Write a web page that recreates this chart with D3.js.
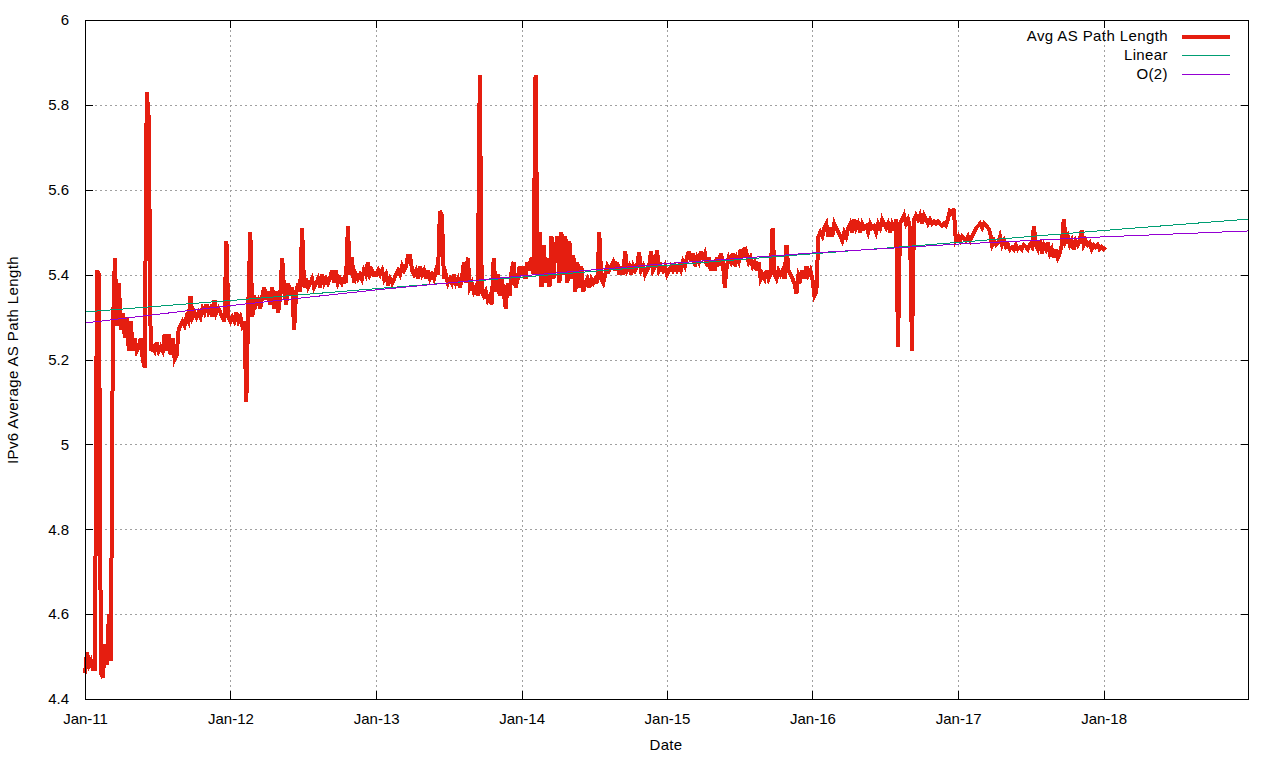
<!DOCTYPE html>
<html><head><meta charset="utf-8">
<script src="https://cdn.jsdelivr.net/npm/d3@7"></script>
<style>
body{margin:0;background:#fff}
text{font-family:"Liberation Sans",Arial,sans-serif;font-size:15px;fill:#000}
</style>
</head><body>
<svg id="chart" width="1280" height="760"></svg>
<script>
// ---- data (5-day samples, starting Jan 1 of each year) ----
const years = [2011, 2012, 2013, 2014, 2015, 2016, 2017, 2018];
const avg2011 = [4.46,4.51,4.48,4.49,4.47,4.47,5.41,5.40,4.46,4.45,4.53,4.48,4.60,4.49,5.27,5.44,5.28,5.38,5.27,5.31,5.25,5.30,5.22,5.29,5.22,5.25,5.22,5.23,5.25,5.20,5.18,5.83,5.77,5.22,5.23,5.22,5.24,5.22,5.23,5.22,5.26,5.22,5.26,5.21,5.25,5.20,5.21,5.27,5.28,5.29,5.28,5.30,5.29,5.35,5.30,5.31,5.30,5.31,5.30,5.32,5.31,5.33,5.31,5.32,5.30,5.34,5.31,5.32,5.31,5.30,5.29,5.48,5.30];
const avg2012 = [5.29,5.30,5.29,5.31,5.29,5.30,5.28,5.29,5.10,5.33,5.50,5.30,5.35,5.33,5.34,5.32,5.35,5.37,5.34,5.36,5.33,5.37,5.32,5.36,5.31,5.35,5.44,5.36,5.33,5.38,5.35,5.37,5.27,5.36,5.38,5.36,5.51,5.37,5.39,5.37,5.38,5.39,5.37,5.38,5.39,5.37,5.40,5.38,5.39,5.38,5.39,5.41,5.38,5.41,5.38,5.39,5.38,5.39,5.38,5.515,5.40,5.44,5.38,5.40,5.39,5.40,5.39,5.41,5.40,5.43,5.40,5.41,5.40];
const avg2013 = [5.40,5.41,5.40,5.41,5.39,5.40,5.375,5.39,5.38,5.39,5.40,5.41,5.40,5.42,5.41,5.42,5.445,5.445,5.41,5.40,5.41,5.39,5.42,5.40,5.41,5.39,5.41,5.39,5.40,5.39,5.41,5.40,5.55,5.54,5.39,5.40,5.38,5.39,5.38,5.40,5.38,5.39,5.37,5.39,5.43,5.38,5.44,5.37,5.38,5.36,5.37,5.35,5.87,5.36,5.35,5.36,5.34,5.35,5.33,5.44,5.36,5.40,5.35,5.39,5.36,5.32,5.38,5.35,5.41,5.43,5.37,5.39,5.42];
const avg2014 = [5.40,5.42,5.39,5.43,5.41,5.44,5.40,5.87,5.40,5.50,5.37,5.47,5.38,5.44,5.37,5.49,5.39,5.46,5.49,5.38,5.50,5.40,5.49,5.38,5.48,5.39,5.445,5.36,5.43,5.37,5.42,5.36,5.38,5.39,5.37,5.39,5.38,5.39,5.38,5.50,5.39,5.38,5.40,5.42,5.41,5.42,5.43,5.41,5.43,5.40,5.42,5.40,5.455,5.41,5.42,5.40,5.42,5.41,5.42,5.453,5.41,5.42,5.40,5.41,5.42,5.455,5.41,5.42,5.458,5.41,5.42,5.41,5.42];
const avg2015 = [5.40,5.41,5.42,5.41,5.42,5.41,5.42,5.41,5.43,5.42,5.44,5.455,5.43,5.45,5.42,5.44,5.43,5.455,5.44,5.45,5.42,5.44,5.41,5.43,5.41,5.44,5.42,5.45,5.43,5.37,5.42,5.44,5.43,5.45,5.42,5.44,5.43,5.46,5.44,5.465,5.45,5.43,5.44,5.42,5.43,5.41,5.43,5.39,5.40,5.39,5.41,5.39,5.40,5.51,5.40,5.39,5.41,5.40,5.41,5.39,5.47,5.41,5.40,5.39,5.38,5.355,5.40,5.39,5.41,5.39,5.42,5.40,5.41];
const avg2016 = [5.39,5.35,5.36,5.49,5.50,5.49,5.51,5.52,5.49,5.51,5.49,5.52,5.51,5.50,5.49,5.48,5.50,5.49,5.51,5.52,5.50,5.53,5.51,5.52,5.50,5.52,5.51,5.515,5.50,5.52,5.51,5.515,5.50,5.52,5.51,5.53,5.52,5.51,5.52,5.50,5.52,5.51,5.53,5.23,5.52,5.53,5.54,5.52,5.53,5.51,5.22,5.53,5.54,5.53,5.54,5.52,5.54,5.53,5.52,5.53,5.52,5.525,5.52,5.525,5.52,5.515,5.52,5.515,5.53,5.55,5.545,5.555,5.48];
const avg2017 = [5.49,5.48,5.49,5.485,5.48,5.49,5.48,5.49,5.50,5.51,5.515,5.52,5.51,5.52,5.515,5.51,5.50,5.47,5.48,5.47,5.475,5.49,5.47,5.48,5.465,5.47,5.46,5.465,5.46,5.47,5.46,5.465,5.46,5.47,5.465,5.46,5.47,5.465,5.515,5.47,5.46,5.48,5.45,5.47,5.46,5.475,5.45,5.46,5.44,5.46,5.44,5.45,5.47,5.53,5.48,5.49,5.47,5.48,5.46,5.48,5.47,5.48,5.505,5.47,5.48,5.47,5.475,5.46,5.47,5.465,5.47,5.46,5.465];
const avg2018 = [5.46,5.465];
const yearlySeries = [avg2011, avg2012, avg2013, avg2014, avg2015, avg2016, avg2017, avg2018];

// fitted curves, read at Jan 1 of each year 2011..2019
const fitYears = [2011, 2012, 2013, 2014, 2015, 2016, 2017, 2018, 2019];
const linearFit = [5.312, 5.339, 5.367, 5.394, 5.422, 5.449, 5.476, 5.504, 5.531];
const quadFit = [5.286, 5.327, 5.364, 5.397, 5.426, 5.451, 5.472, 5.489, 5.503];

const xTickYears = [2011, 2012, 2013, 2014, 2015, 2016, 2017, 2018];
const xTickLabels = ["Jan-11","Jan-12","Jan-13","Jan-14","Jan-15","Jan-16","Jan-17","Jan-18"];
const yTicks = [4.4, 4.6, 4.8, 5.0, 5.2, 5.4, 5.6, 5.8, 6.0];
const seriesNames = ["Avg AS Path Length", "Linear", "O(2)"];
const seriesColors = ["#e51e10", "#009e73", "#9400d3"];

// ---- build ----
const avgData = [];
years.forEach((yr, k) => yearlySeries[k].forEach((v, i) => avgData.push({date: new Date(yr, 0, 1 + 5 * i), value: v})));
const linData = fitYears.map((y, i) => ({date: new Date(y, 0, 1), value: linearFit[i]}));
const quadData = fitYears.map((y, i) => ({date: new Date(y, 0, 1), value: quadFit[i]}));

const L = 85, R = 1249, T = 20, B = 699;
const FONT = '"Liberation Sans",Arial,sans-serif';
const x = d3.scaleTime().domain([new Date(2011,0,1), new Date(2019,0,1)]).range([L, R]);
const y = d3.scaleLinear().domain([4.4, 6.0]).range([B, T]);

const svg = d3.select("#chart");
svg.append("rect").attr("width",1280).attr("height",760).attr("fill","#fff");

const grid = svg.append("g").attr("stroke","#a0a0a0").attr("stroke-width",1).attr("stroke-dasharray","2,3").attr("fill","none");
xTickYears.forEach(yr => {
  const px = Math.round(x(new Date(yr,0,1))) + 0.5;
  grid.append("line").attr("x1",px).attr("x2",px).attr("y1",T).attr("y2",B);
});
yTicks.forEach(v => {
  const py = Math.round(y(v)) + 0.5;
  grid.append("line").attr("x1",L).attr("x2",R).attr("y1",py).attr("y2",py);
});

const line = d3.line().x(d => x(d.date)).y(d => y(d.value));
svg.append("path").datum(avgData).attr("d", line).attr("fill","none")
  .attr("stroke", seriesColors[0]).attr("stroke-width", 4).attr("stroke-linejoin","miter")
  .attr("shape-rendering","crispEdges");
svg.append("path").datum(linData).attr("d", line.curve(d3.curveMonotoneX)).attr("fill","none")
  .attr("stroke", seriesColors[1]).attr("stroke-width", 1).attr("shape-rendering","crispEdges");
svg.append("path").datum(quadData).attr("d", line.curve(d3.curveMonotoneX)).attr("fill","none")
  .attr("stroke", seriesColors[2]).attr("stroke-width", 1).attr("shape-rendering","crispEdges");

// frame + ticks
const ax = svg.append("g").attr("stroke","#000").attr("stroke-width",1).attr("fill","none");
ax.append("rect").attr("x",L+0.5).attr("y",T+0.5).attr("width",R-L-1).attr("height",B-T);
xTickYears.forEach(yr => {
  const px = Math.round(x(new Date(yr,0,1))) + 0.5;
  ax.append("line").attr("x1",px).attr("x2",px).attr("y1",B).attr("y2",B-8);
  ax.append("line").attr("x1",px).attr("x2",px).attr("y1",T).attr("y2",T+8);
});
yTicks.forEach(v => {
  const py = Math.round(y(v)) + 0.5;
  ax.append("line").attr("x1",L).attr("x2",L+8).attr("y1",py).attr("y2",py);
  ax.append("line").attr("x1",R).attr("x2",R-8).attr("y1",py).attr("y2",py);
});

// labels
const xAxis = d3.axisBottom(x).tickValues(xTickYears.map(yr => new Date(yr,0,1)))
  .tickFormat((d,i) => xTickLabels[i]).tickSize(0).tickPadding(14);
const gx = svg.append("g").attr("transform",`translate(0,${B})`).call(xAxis);
gx.select(".domain").remove();
gx.selectAll("text").attr("font-size",15).attr("font-family",FONT).attr("fill","#000");

const yAxis = d3.axisLeft(y).tickValues(yTicks).tickFormat(d => String(+d.toFixed(1))).tickSize(0).tickPadding(16);
const gy = svg.append("g").attr("transform",`translate(${L},0)`).call(yAxis);
gy.select(".domain").remove();
gy.selectAll("text").attr("font-size",15).attr("font-family",FONT).attr("fill","#000");

svg.append("text").attr("x",666).attr("y",750).attr("text-anchor","middle").attr("letter-spacing","0.3px").text("Date");
svg.append("text").attr("transform","translate(18,360) rotate(-90)").attr("text-anchor","middle")
  .attr("letter-spacing","0.4px").text("IPv6 Average AS Path Length");

// legend
const lg = svg.append("g");
seriesNames.forEach((n, i) => {
  const cy = 36 + i * 19;
  lg.append("text").attr("x",1168).attr("y",cy).attr("dy","0.35em").attr("text-anchor","end")
    .attr("letter-spacing","0.4px").text(n);
  lg.append("line").attr("x1",1182).attr("x2",1230).attr("y1",cy+0.5).attr("y2",cy+0.5)
    .attr("stroke",seriesColors[i]).attr("stroke-width", i === 0 ? 4 : 1).attr("shape-rendering","crispEdges");
});
</script>
</body></html>
